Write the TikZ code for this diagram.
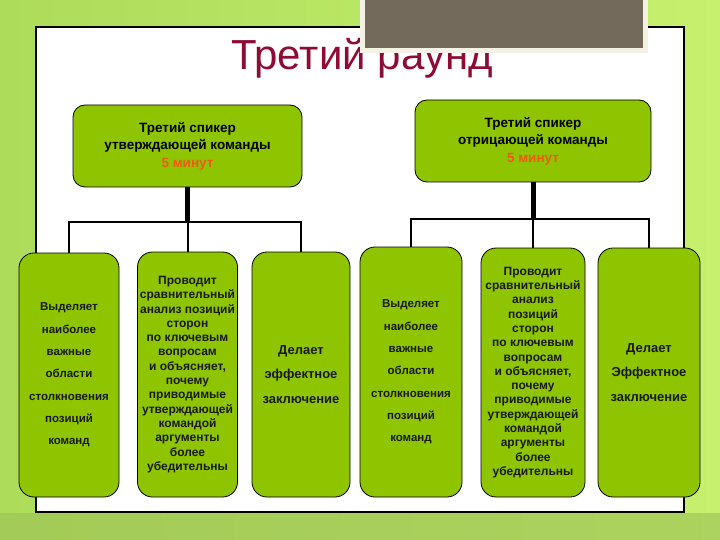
\documentclass[tikz,border=0pt]{standalone}
\usepackage{fontspec}
\setmainfont{Liberation Sans}
\usepackage{xcolor}
\usetikzlibrary{calc,positioning,backgrounds}
\definecolor{leaf}{HTML}{8FC400}
\definecolor{bgl}{HTML}{ADDC5A}
\definecolor{bgr}{HTML}{C6F06E}
\definecolor{bgbottom}{HTML}{9CC055}
\definecolor{slate}{HTML}{736A5C}
\definecolor{cream}{HTML}{F4F2E4}
\definecolor{crimson}{HTML}{8E0B35}
\definecolor{tangerine}{HTML}{F05A14}
\newcommand{\mins}[1]{{\color{tangerine}#1}}

\begin{document}
\begin{tikzpicture}[
    x=1pt, y=-1pt,
    head/.style ={draw=black, line width=0.8pt, fill=leaf, rounded corners=12pt,
                  align=center, inner sep=0pt, minimum height=82pt,
                  font=\fontsize{13.5}{17.5}\selectfont\bfseries},
    leafbox/.style={draw=black, line width=0.8pt, fill=leaf, rounded corners=15pt,
                  align=center, inner sep=0pt, text=black!90,
                  font=\fontsize{12}{14.3}\selectfont\bfseries},
    wide/.style ={font=\fontsize{11.5}{22.3}\selectfont\bfseries},
    final/.style={font=\fontsize{13}{24.5}\selectfont\bfseries},
    bus/.style  ={draw=black, line width=2pt},
    trunk/.style={draw=black, line width=5pt},
  ]
  \useasboundingbox (0,0) rectangle (720,540);
  % backdrop and slide panel
  \shade[left color=bgl, right color=bgr] (0,0) rectangle (720,540);
  \fill[bgbottom, opacity=0.6] (0,513) rectangle (720,540);
  \draw[fill=white, line width=1.4pt] (36,27) rectangle (684,512);
  \node[crimson, font=\fontsize{42}{42}\selectfont, anchor=base] (ttl) at (362,70) {Третий раунд};
  \fill[cream] (360,-5) rectangle (648,53);
  \fill[slate] (365,-5) rectangle (643,48);
  % speakers
  \node[head, minimum width=229pt] (aff) at (187.5,146)
       {Третий спикер\\утверждающей команды\\\mins{5 минут}};
  \node[head, minimum width=236pt] (neg) at (533,141)
       {Третий спикер\\отрицающей команды\\\mins{5 минут}};
  % duties of the affirmative speaker
  \node[leafbox, wide, minimum width=100pt, minimum height=244pt] (a1) at (69,375)
       {Выделяет\\наиболее\\важные\\области\\столкновения\\позиций\\команд};
  \node[leafbox, minimum width=100pt, minimum height=245pt] (a2) at (187.5,374.5)
       {Проводит\\сравнительный\\анализ позиций\\сторон\\по ключевым\\вопросам\\и объясняет,\\почему\\приводимые\\утверждающей\\командой\\аргументы\\более\\убедительны};
  \node[leafbox, final, minimum width=98pt, minimum height=245pt] (a3) at (301,374.5)
       {Делает\\эффектное\\заключение};
  % duties of the negative speaker
  \node[leafbox, wide, minimum width=102pt, minimum height=250pt] (n1) at (411,372)
       {Выделяет\\наиболее\\важные\\области\\столкновения\\позиций\\команд};
  \node[leafbox, minimum width=104pt, minimum height=249pt] (n2) at (533,372.5)
       {Проводит\\сравнительный\\анализ\\позиций\\сторон\\по ключевым\\вопросам\\и объясняет,\\почему\\приводимые\\утверждающей\\командой\\аргументы\\более\\убедительны};
  \node[leafbox, final, minimum width=102pt, minimum height=249pt] (n3) at (649,372.5)
       {Делает\\Эффектное\\заключение};
  % connectors
  \coordinate (ja) at ($(aff.south)+(0,35)$);
  \coordinate (jn) at ($(neg.south)+(0,37)$);
  \draw[trunk] (aff.south) -- (ja);
  \draw[bus] (a1.north) |- (ja) -| (a3.north);
  \draw[bus] (ja) -- (a2.north);
  \draw[trunk] (neg.south) -- (jn);
  \draw[bus] (n1.north) |- (jn) -| (n3.north);
  \draw[bus] (jn) -- (n2.north);
\end{tikzpicture}
\end{document}
